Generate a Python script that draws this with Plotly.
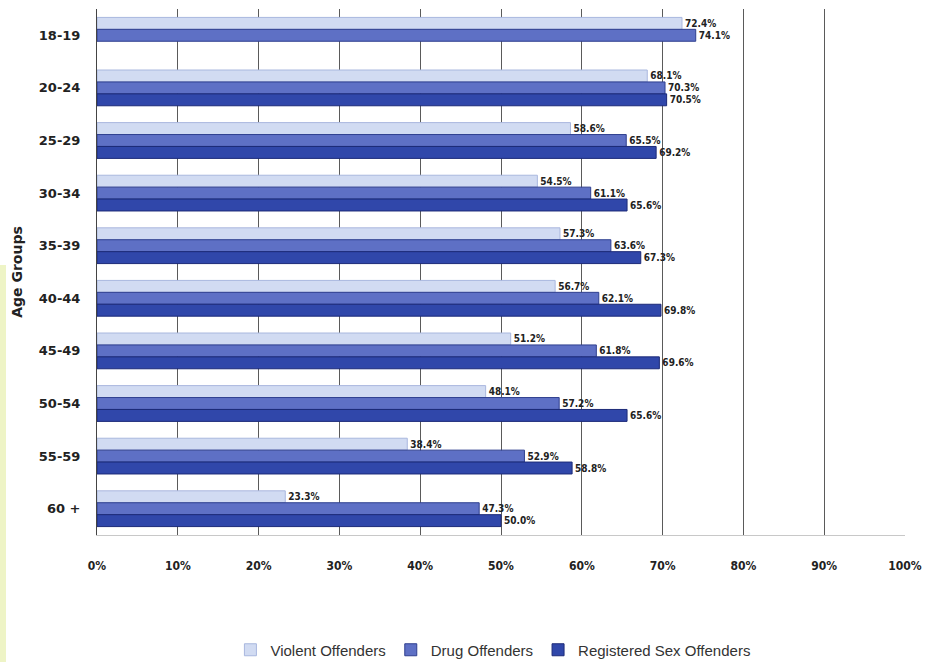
import plotly.graph_objects as go

# Share of offenders by age group
age_groups = ["18-19", "20-24", "25-29", "30-34", "35-39",
              "40-44", "45-49", "50-54", "55-59", "60 +"]
violent = [72.4, 68.1, 58.6, 54.5, 57.3, 56.7, 51.2, 48.1, 38.4, 23.3]
drug = [74.1, 70.3, 65.5, 61.1, 63.6, 62.1, 61.8, 57.2, 52.9, 47.3]
sex_off = [None, 70.5, 69.2, 65.6, 67.3, 69.8, 69.6, 65.6, 58.8, 50.0]
x_ticks = [0, 10, 20, 30, 40, 50, 60, 70, 80, 90, 100]

series = [
    ("Violent Offenders", violent, "#d1dbf2", "#a9b7de"),
    ("Drug Offenders", drug, "#5e70c5", "#2f3f8f"),
    ("Registered Sex Offenders", sex_off, "#3047aa", "#1c2a78"),
]

fig = go.Figure()
for name, vals, fill, edge in series:
    fig.add_trace(go.Bar(
        name=name,
        y=age_groups,
        x=vals,
        orientation="h",
        marker=dict(color=fill, line=dict(color=edge, width=1)),
        text=[f"{v:.1f}%" if v is not None else "" for v in vals],
        textposition="outside",
        textfont=dict(family="DejaVu Sans Condensed", size=10, color="#222222", weight="bold"),
        cliponaxis=False,
        hoverinfo="skip",
    ))

# pale tinted strip along the left page edge
fig.add_shape(
    type="rect", xref="paper", yref="paper",
    x0=-97 / 808, x1=-91 / 808, y0=-127 / 526, y1=270 / 526,
    fillcolor="#eef4c6", line=dict(width=0), layer="below",
)

fig.update_layout(
    width=930,
    height=662,
    paper_bgcolor="white",
    plot_bgcolor="white",
    barmode="group",
    bargap=0.32,
    bargroupgap=0,
    margin=dict(l=97, r=25, t=9, b=127, autoexpand=False),
    showlegend=True,
    legend=dict(
        orientation="h",
        x=0.49, xanchor="center",
        yref="container",
        y=(662 - 650) / 662, yanchor="middle",
        font=dict(family="Liberation Sans Narrow, Liberation Sans", size=15, color="#333333"),
        traceorder="normal",
    ),
)

fig.update_xaxes(
    range=[0, 100],
    tickvals=x_ticks,
    ticktext=[f"{t}%" for t in x_ticks],
    showgrid=True,
    gridcolor="#5a5a5a",
    gridwidth=1,
    zeroline=False,
    showline=True,
    linecolor="#c8c8c8",
    linewidth=1,
    ticks="",
    automargin=False,
    ticklabelstandoff=20,
    tickfont=dict(family="DejaVu Sans Condensed", size=12, color="#222222", weight="bold"),
)

fig.update_yaxes(
    autorange="reversed",
    showgrid=False,
    showline=True,
    linecolor="#444444",
    linewidth=1,
    ticks="",
    automargin=False,
    ticklabelstandoff=13,
    tickfont=dict(family="DejaVu Sans", size=13, color="#222222", weight="bold"),
    title=dict(
        text="Age Groups",
        font=dict(family="DejaVu Sans", size=14, color="#222222", weight="bold"),
        standoff=12,
    ),
)

fig.write_html("out.html")
